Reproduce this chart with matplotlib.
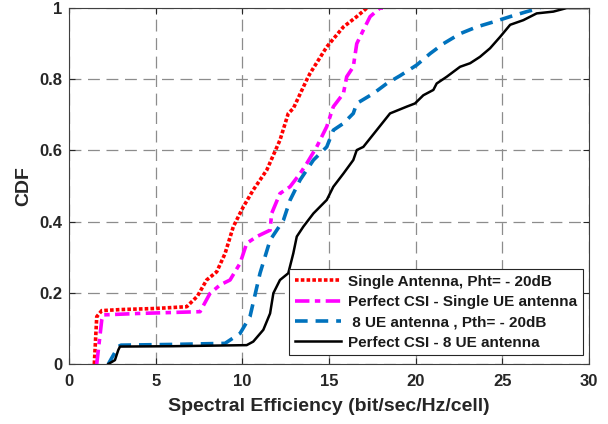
import numpy as np
import matplotlib.pyplot as plt

# CDF curves
single_x = [1.46, 1.6, 1.89, 3.0, 5.0, 6.79, 7.4, 7.94, 8.52, 9.0, 9.48, 10.06, 10.63,
            11.41, 12.17, 12.65, 12.94, 13.71, 13.9, 14.87, 15.83, 16.6, 17.18]
single_y = [0.0, 0.133, 0.15, 0.153, 0.156, 0.161, 0.19, 0.236, 0.259, 0.31, 0.386, 0.442, 0.489,
            0.545, 0.629, 0.704, 0.718, 0.798, 0.816, 0.891, 0.947, 0.976, 1.0]

csi1_x = [1.6, 1.89, 1.98, 4.0, 7.56, 8.13, 8.71, 9.29, 9.87, 10.25, 10.83, 11.6, 11.69,
          12.17, 12.75, 13.33, 13.71, 14.29, 14.87, 15.25, 15.83, 16.02, 16.4, 16.6,
          16.98, 17.37, 17.94, 18.3]
csi1_y = [0.0, 0.124, 0.138, 0.142, 0.147, 0.198, 0.222, 0.236, 0.283, 0.339, 0.358, 0.376, 0.423,
          0.479, 0.498, 0.535, 0.563, 0.61, 0.667, 0.723, 0.76, 0.807, 0.835, 0.9,
          0.938, 0.976, 1.0, 1.0]

ue8_x = [2.27, 2.84, 3.0, 6.0, 9.0, 9.87, 10.44, 11.02, 11.6, 12.37, 12.75, 13.33, 14.1,
         14.87, 15.25, 15.83, 16.4, 16.6, 17.56, 18.33, 19.1, 20.06, 20.83, 21.6, 22.56,
         23.52, 24.48, 25.45, 26.41, 27.17]
ue8_y = [0.0, 0.049, 0.053, 0.055, 0.058, 0.086, 0.133, 0.255, 0.348, 0.404, 0.46, 0.517, 0.573,
         0.61, 0.657, 0.676, 0.704, 0.732, 0.76, 0.788, 0.81, 0.84, 0.872, 0.9, 0.928,
         0.947, 0.961, 0.976, 0.99, 1.0]

csi8_x = [2.27, 2.65, 2.84, 2.94, 6.0, 10.25, 10.63, 11.21, 11.6, 11.79, 12.17, 12.65, 12.94,
          13.14, 13.52, 14.1, 14.87, 15.25, 15.83, 16.4, 16.6, 16.98, 17.75, 18.52, 19.48,
          19.96, 20.44, 21.02, 21.21, 21.79, 22.56, 23.14, 23.71, 24.29, 24.87, 25.45,
          26.21, 26.98, 27.94, 28.71, 29.87]
csi8_y = [0.0, 0.011, 0.039, 0.049, 0.05, 0.053, 0.063, 0.096, 0.142, 0.199, 0.236, 0.255, 0.311,
          0.358, 0.386, 0.423, 0.461, 0.498, 0.535, 0.573, 0.601, 0.61, 0.657, 0.704, 0.723,
          0.732, 0.755, 0.77, 0.788, 0.807, 0.835, 0.845, 0.863, 0.887, 0.919, 0.953,
          0.966, 0.985, 0.99, 1.0, 1.0]

labels = ['Single Antenna, Pht= - 20dB',
          'Perfect CSI - Single UE antenna',
          ' 8 UE antenna , Pth= - 20dB',
          'Perfect CSI - 8 UE antenna']

x_ticks = [0, 5, 10, 15, 20, 25, 30]
y_ticks = [0, 0.2, 0.4, 0.6, 0.8, 1]
y_tick_labels = ['0', '0.2', '0.4', '0.6', '0.8', '1']

plt.rcParams['font.family'] = ['Liberation Sans', 'DejaVu Sans']
plt.rcParams['font.weight'] = 'bold'

fig = plt.figure(figsize=(6.08, 4.24), dpi=100)
ax = fig.add_axes([0.1135, 0.1415, 0.8553, 0.8395])

ax.plot(single_x, single_y, color='#ff0000', linestyle=(0, (1, 0.6)), linewidth=2.6, label=labels[0])
ax.plot(csi1_x, csi1_y, color='#ff00ff', linestyle=(0, (4, 1.5, 1.5, 1.5)), linewidth=2.6, label=labels[1])
ax.plot(ue8_x, ue8_y, color='#0072bd', linestyle=(0, (3.5, 2.2)), linewidth=2.6, label=labels[2])
ax.plot(csi8_x, csi8_y, color='black', linestyle='-', linewidth=1.8, label=labels[3])

ax.set_xlim(0, 30)
ax.set_ylim(0, 1)
ax.set_xticks(x_ticks)
ax.set_yticks(y_ticks)
ax.set_yticklabels(y_tick_labels)
ax.tick_params(direction='in', length=4, labelsize=12, colors='#262626',
               top=True, right=True)
ax.tick_params(axis='x', pad=7)
ax.tick_params(axis='y', pad=5)
for lab in ax.get_xticklabels() + ax.get_yticklabels():
    lab.set_fontweight('bold')

ax.grid(True, color='#8c8c8c', linestyle=(0, (9.5, 5.3)), linewidth=0.9)
for sp in ax.spines.values():
    sp.set_color('#404040')
    sp.set_linewidth(0.8)

ax.set_xlabel('Spectral Efficiency (bit/sec/Hz/cell)', fontsize=14, fontweight='bold',
              color='#262626', labelpad=7)
ax.set_ylabel('CDF', fontsize=14, fontweight='bold', color='#262626', labelpad=5)

leg = ax.legend(loc='lower right', bbox_to_anchor=(0.988, 0.025), fontsize=11,
                frameon=True, fancybox=False, framealpha=1, edgecolor='#262626',
                handlelength=3.0, borderpad=0.35, labelspacing=0.42, handletextpad=0.5,
                borderaxespad=0)
leg.get_frame().set_linewidth(0.8)
for t in leg.get_texts():
    t.set_fontweight('bold')
    t.set_color('#1a1a1a')

fig.savefig('out.png', dpi=100)
